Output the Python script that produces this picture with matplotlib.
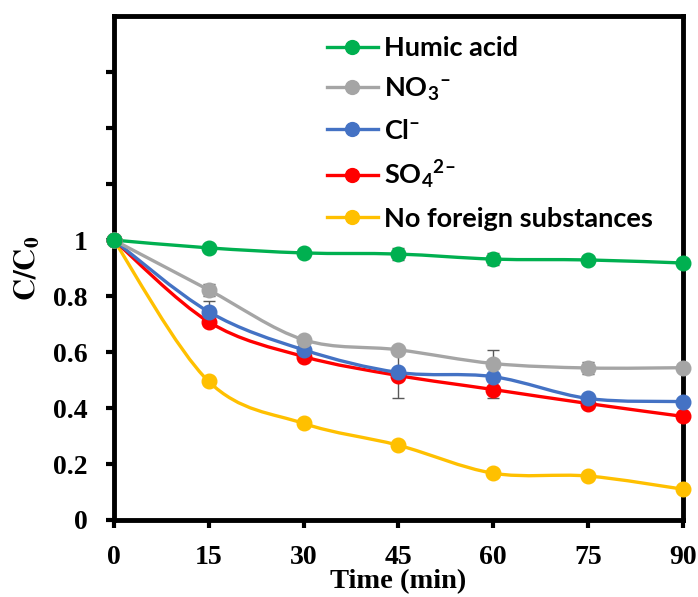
import matplotlib
matplotlib.use("Agg")
import matplotlib.pyplot as plt
from matplotlib.path import Path
from matplotlib.patches import PathPatch
from matplotlib.lines import Line2D
from matplotlib.font_manager import FontProperties
import numpy as np

plt.rcParams["mathtext.fontset"] = "custom"
plt.rcParams["mathtext.rm"] = "Lato:bold"
plt.rcParams["mathtext.bf"] = "Lato:bold"
plt.rcParams["mathtext.it"] = "Lato:bold"

# Sampling times (min)
time = [0, 15, 30, 45, 60, 75, 90]

# Normalised concentration C/C0 for each condition
humic = [1.0, 0.972, 0.954, 0.950, 0.932, 0.929, 0.918]
nitrate = [1.0, 0.822, 0.644, 0.608, 0.559, 0.543, 0.544]
chloride = [1.0, 0.744, 0.608, 0.527, 0.512, 0.434, 0.423]
sulfate = [1.0, 0.708, 0.584, 0.516, 0.466, 0.416, 0.370]
blank = [1.0, 0.495, 0.345, 0.267, 0.167, 0.157, 0.110]

# Standard deviations
humic_err = [0, 0.005, 0.008, 0.020, 0.020, 0.015, 0.010]
nitrate_err = [0, 0.022, 0.010, 0.010, 0.049, 0.022, 0.012]
chloride_err = [0, 0.040, 0.010, 0.010, 0.008, 0.008, 0.008]
sulfate_err = [0, 0.008, 0.008, 0.080, 0.030, 0.010, 0.008]
blank_err = [0, 0.005, 0.005, 0.005, 0.005, 0.005, 0.005]

labels = ["Humic acid", "NO$_3$$^{\u2013}$", "Cl$^{\u2013}$",
          "SO$_4$$^{2\u2013}$", "No foreign substances"]
colors = ["#00B050", "#A5A5A5", "#4472C4", "#FF0000", "#FFC000"]
series = [humic, nitrate, chloride, sulfate, blank]
errors = [humic_err, nitrate_err, chloride_err, sulfate_err, blank_err]

y_ticks = [0, 0.2, 0.4, 0.6, 0.8, 1.0, 1.2, 1.4, 1.6]
y_ticklabels = ["0", "0.2", "0.4", "0.6", "0.8", "1", "", "", ""]
x_ticks = [0, 15, 30, 45, 60, 75, 90]


def smooth_path(xs, ys):
    """Cardinal-spline Bezier path through the points (Excel-style smoothing)."""
    pts = np.column_stack([xs, ys]).astype(float)
    n = len(pts)
    verts = [pts[0]]
    codes = [Path.MOVETO]
    for i in range(n - 1):
        p0 = pts[i - 1] if i > 0 else pts[i]
        p1 = pts[i]
        p2 = pts[i + 1]
        p3 = pts[i + 2] if i + 2 < n else pts[i + 1]
        c1 = p1 + (p2 - p0) / 6.0
        c2 = p2 - (p3 - p1) / 6.0
        verts += [c1, c2, p2]
        codes += [Path.CURVE4] * 3
    return Path(verts, codes)


fig = plt.figure(figsize=(6.98, 5.97), dpi=100)
ax = fig.add_axes([0.163, 0.129, 0.8155, 0.844])

serif = "Liberation Serif"
lw = 2.4
ms = 10.5

# Draw in reverse so the first series ends up on top
for vals, errs, col in reversed(list(zip(series, errors, colors))):
    ax.add_patch(PathPatch(smooth_path(time, vals), facecolor="none",
                           edgecolor=col, lw=lw, zorder=2, capstyle="round"))
    ax.errorbar(time, vals, yerr=errs, fmt="none", ecolor="#595959",
                elinewidth=1.0, capsize=4.5, capthick=1.0, zorder=3)
    ax.plot(time, vals, linestyle="none", marker="o", ms=ms,
            color=col, zorder=4, clip_on=False)

ax.set_xlim(0, 90)
ax.set_ylim(0, 1.8)
ax.set_xticks(x_ticks)
ax.set_yticks(y_ticks)
ax.set_yticklabels(y_ticklabels)
ax.set_xticklabels([str(t) for t in x_ticks])

for sp in ax.spines.values():
    sp.set_linewidth(3.5)
    sp.set_zorder(1)
ax.tick_params(axis="both", direction="out", length=6, width=3,
               labelsize=20)
ax.tick_params(axis="y", pad=13)
ax.tick_params(axis="x", pad=12)
for lab in ax.get_xticklabels() + ax.get_yticklabels():
    lab.set_fontfamily(serif)
    lab.set_fontweight("bold")

ax.set_xlabel("Time (min)", fontsize=20.5, fontweight="bold",
              fontfamily=serif, labelpad=-1)
ax.set_ylabel(r"$\mathbf{C/C_0}$", fontsize=22, labelpad=8,
              math_fontfamily="stix")

handles = [Line2D([], [], color=c, lw=lw, marker="o", ms=ms * 0.95)
           for c in colors]
leg_font = FontProperties(family="Lato", weight="bold", size=19.5,
                          math_fontfamily="custom")
leg = ax.legend(handles, labels, loc="upper left",
                bbox_to_anchor=(0.355, 0.982), frameon=False,
                handlelength=1.9, handletextpad=0.2, labelspacing=0.58,
                borderaxespad=0, prop=leg_font)

fig.savefig("out.png", dpi=100)
